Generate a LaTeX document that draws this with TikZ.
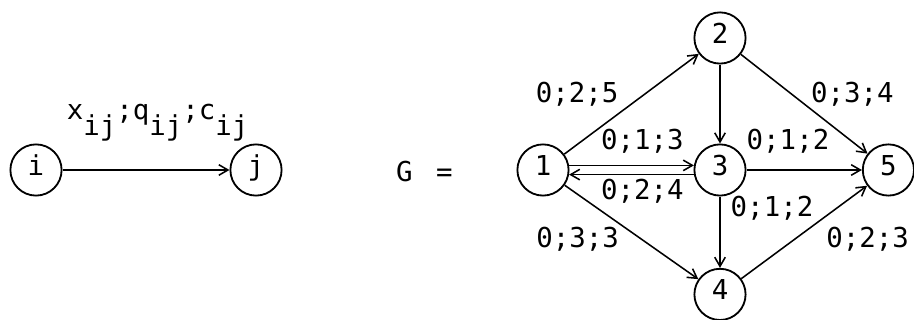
\documentclass[tikz,border=0pt]{standalone}
\usepackage{fontspec}
\setmonofont{DejaVu Sans Mono}
\usetikzlibrary{arrows.meta}
\newcommand{\lowr}[1]{\raisebox{-0.55em}{#1}}

\begin{document}
\begin{tikzpicture}[
  font=\ttfamily\fontsize{19.5}{23}\selectfont,
  vert/.style={circle,draw,line width=1.3pt,minimum size=1.28cm,inner sep=0pt,
               text height=0.73em,text depth=0pt},
  lab/.style={anchor=base,inner sep=1pt},
  arr/.style={-{Straight Barb[length=6.5pt,width=7.5pt]},line width=1.1pt}
]
\useasboundingbox (0,0) rectangle (22.85,8);

% one arc with its labels
\node[vert] (i) at (0.9,3.75) {i};
\node[vert] (j) at (6.4,3.75) {j};
\draw[arr] (i)--(j);
\node[lab] (xqc) at (3.94,5.0) {x\lowr{ij};q\lowr{ij};c\lowr{ij}};

% the network G
\node[lab] (G) at (10.61,3.45) {G\hspace{0.85em}=};
\node[vert] (n1) at (13.575,3.75) {1};
\node[vert] (n2) at (18.0,7.05)   {2};
\node[vert] (n3) at (18.0,3.75)   {3};
\node[vert] (n4) at (18.0,0.64)   {4};
\node[vert] (n5) at (22.21,3.75)  {5};

\draw[arr] (n1)--(n2);
\draw[arr] (n2)--(n3);
\draw[arr] (n2)--(n5);
\draw[arr] (n1.10)--(n3.170);
\draw[arr] (n3.190)--(n1.350);
\draw[arr] (n3)--(n5);
\draw[arr] (n3)--(n4);
\draw[arr] (n1)--(n4);
\draw[arr] (n4)--(n5);

\node[lab] (l12) at (14.43,5.425) {0;2;5};
\node[lab] (l25) at (21.31,5.425) {0;3;4};
\node[lab] (l13) at (16.06,4.25)  {0;1;3};
\node[lab] (l35) at (19.7,4.25)   {0;1;2};
\node[lab] (l31) at (16.06,3.0)   {0;2;4};
\node[lab] (l34) at (19.3,2.575)  {0;1;2};
\node[lab] (l14) at (14.44,1.8)   {0;3;3};
\node[lab] (l45) at (21.69,1.8)   {0;2;3};
\end{tikzpicture}
\end{document}
